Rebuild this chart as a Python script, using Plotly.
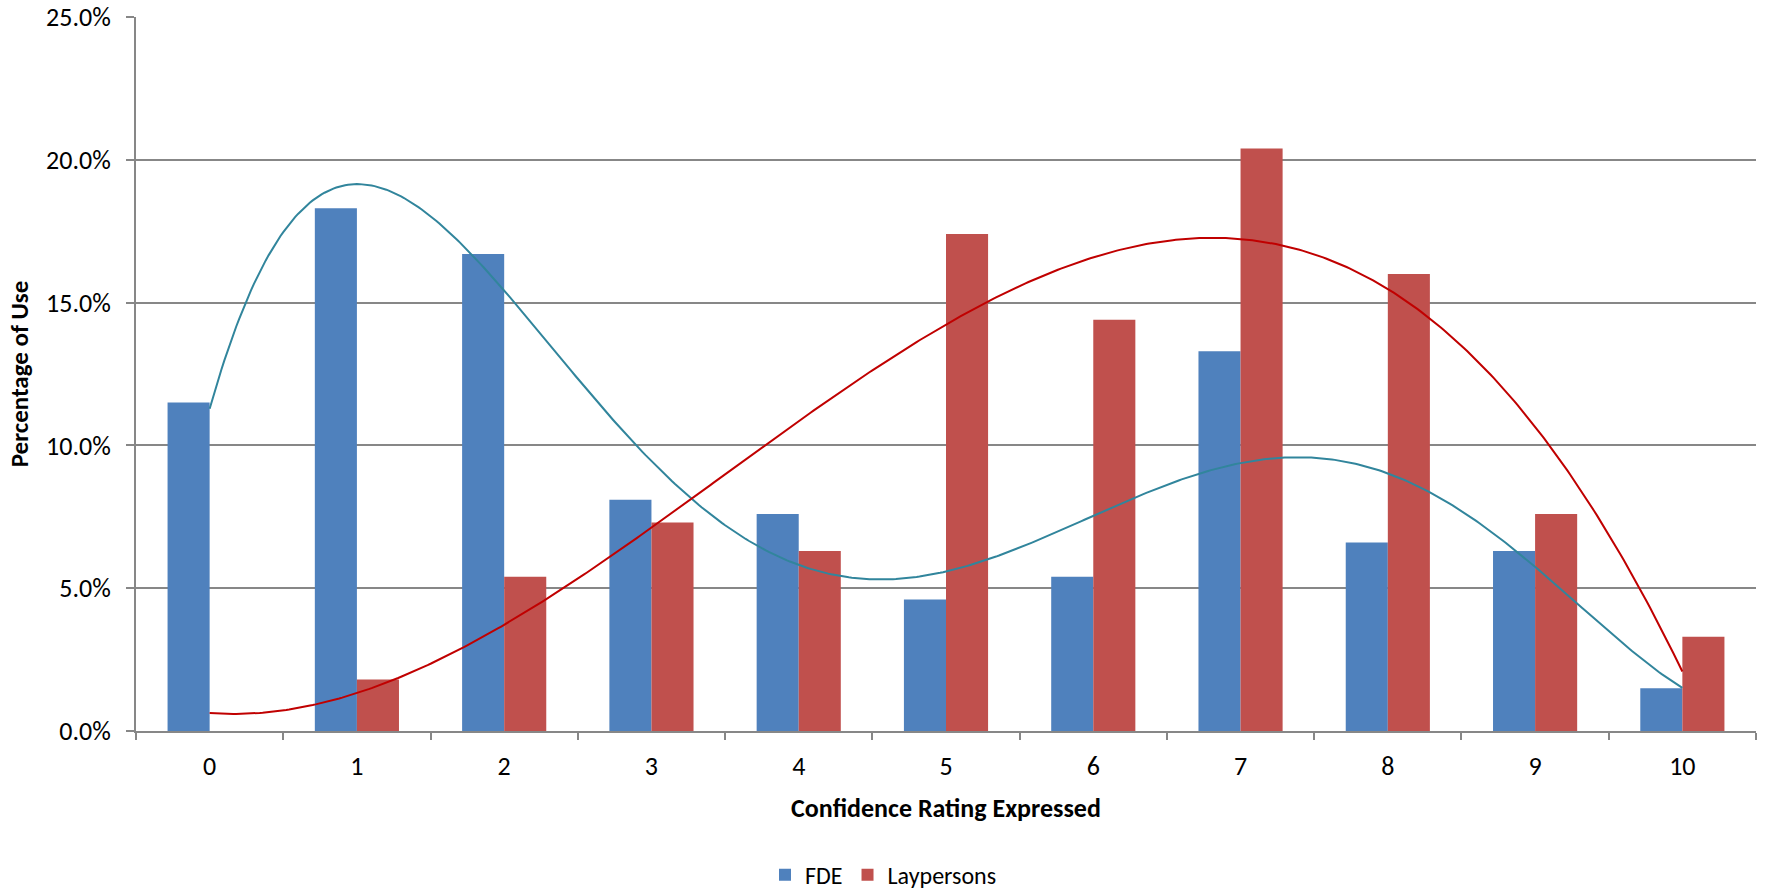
import numpy as np
import plotly.graph_objects as go

# Confidence rating categories (0-10) and percentage of use per group
ratings = list(range(11))
rating_labels = [str(r) for r in ratings]
fde_pct = [11.5, 18.3, 16.7, 8.1, 7.6, 4.6, 5.4, 13.3, 6.6, 6.3, 1.5]
lay_pct = [0.0, 1.8, 5.4, 7.3, 6.3, 17.4, 14.4, 20.4, 16.0, 7.6, 3.3]

# Polynomial trendline orders for each series
fde_trend_order = 5
lay_trend_order = 3

FONT = "Calibri, Carlito, Lato, sans-serif"
BLUE = "#4F81BD"
RED = "#C0504D"
TEAL = "#31859C"
DARK_RED = "#C00000"
GRID = "#878787"

fde = np.array(fde_pct) / 100.0
lay = np.array(lay_pct) / 100.0
xs = np.array(ratings, dtype=float)
x_fine = np.linspace(xs.min(), xs.max(), 501)
fde_fit = np.polyval(np.polyfit(xs, fde, fde_trend_order), x_fine)
lay_fit = np.polyval(np.polyfit(xs, lay, lay_trend_order), x_fine)

fig = go.Figure()
fig.add_trace(go.Bar(x=rating_labels, y=fde, name="FDE",
                     marker=dict(color=BLUE, line=dict(width=0))))
fig.add_trace(go.Bar(x=rating_labels, y=lay, name="Laypersons",
                     marker=dict(color=RED, line=dict(width=0))))
fig.add_trace(go.Scatter(x=x_fine, y=fde_fit, mode="lines", xaxis="x2",
                         line=dict(color=TEAL, width=2), showlegend=False,
                         hoverinfo="skip"))
fig.add_trace(go.Scatter(x=x_fine, y=lay_fit, mode="lines", xaxis="x2",
                         line=dict(color=DARK_RED, width=2), showlegend=False,
                         hoverinfo="skip"))

fig.update_layout(
    width=1767, height=894,
    margin=dict(l=136, r=11, t=17, b=163, autoexpand=False),
    paper_bgcolor="white", plot_bgcolor="white",
    font=dict(family=FONT, size=26, color="#000000"),
    barmode="group", bargap=0.4286, bargroupgap=0,
    xaxis=dict(
        type="category", range=[-0.5, 10.5], automargin=False,
        showline=True, linecolor=GRID, linewidth=2,
        ticks="outside", tickson="boundaries", ticklen=7, tickwidth=2,
        tickcolor=GRID, showgrid=False, ticklabelstandoff=11,
        tickfont=dict(family=FONT, size=26),
        title=dict(text="<b>Confidence Rating Expressed</b>", standoff=18,
                   font=dict(family=FONT, size=26)),
    ),
    xaxis2=dict(overlaying="x", range=[-0.5, 10.5], visible=False),
    yaxis=dict(
        range=[0, 0.25], tick0=0, dtick=0.05, tickformat=".1%",
        automargin=False,
        showline=True, linecolor=GRID, linewidth=2,
        ticks="outside", ticklen=8, tickwidth=2, tickcolor=GRID,
        showgrid=True, gridcolor=GRID, gridwidth=1.5, zeroline=False,
        ticklabelstandoff=10,
        tickfont=dict(family=FONT, size=26),
        title=dict(text="<b>Percentage of Use</b>", standoff=10,
                   font=dict(family=FONT, size=25)),
    ),
    legend=dict(orientation="h", xref="container", yref="container",
                x=0.5, xanchor="center", y=0.021, yanchor="middle",
                font=dict(family=FONT, size=24), traceorder="normal",
                itemwidth=30),
)

fig.write_html("out.html")
